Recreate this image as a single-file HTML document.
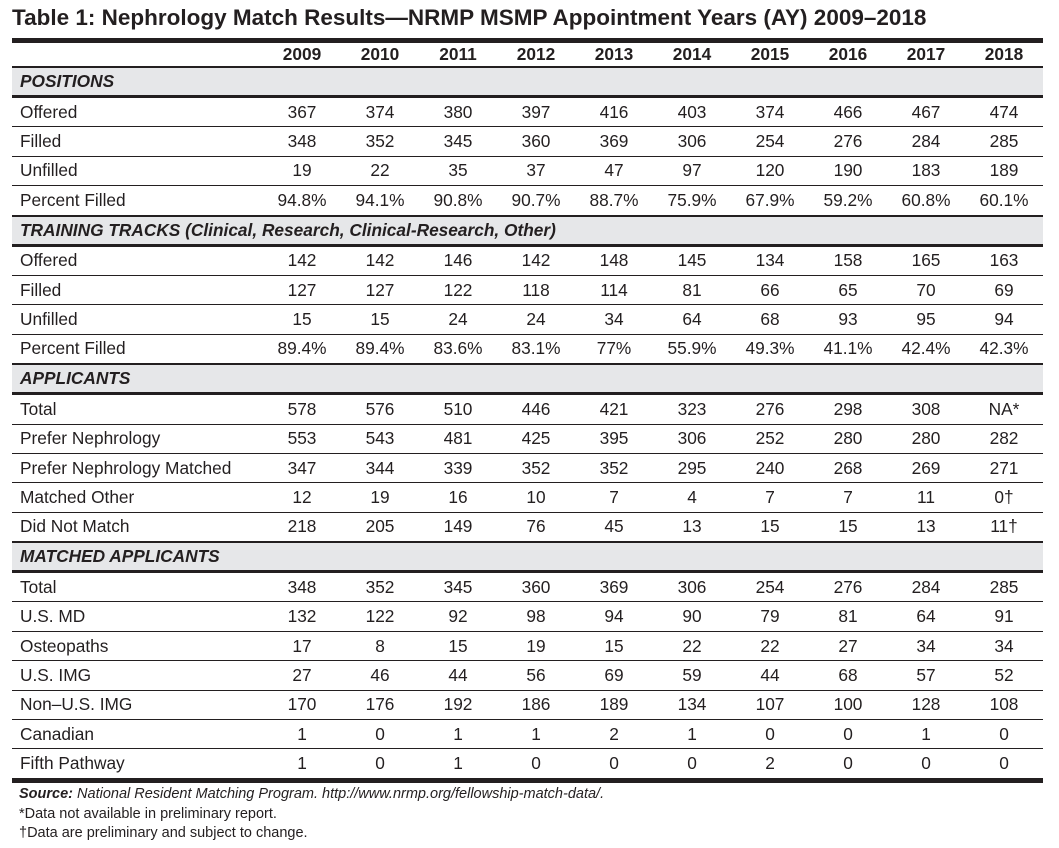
<!DOCTYPE html>
<html><head><meta charset="utf-8"><style>
body{margin:0;background:#fff;width:1059px;height:848px;overflow:hidden;font-family:"Liberation Sans",Arial,sans-serif;color:#231f20}
.title{position:absolute;left:12px;top:5px;font-size:22.5px;font-weight:bold;letter-spacing:0px}
table{position:absolute;left:12px;top:38px;width:1031px;border-collapse:collapse;table-layout:fixed;font-size:17.3px;border-top:5px solid #231f20;border-bottom:5px solid #231f20}
td{padding:0;text-align:center;border-bottom:1px solid #231f20;height:28.4px;white-space:nowrap}
td:first-child{text-align:left;padding-left:8px}
tr.h td{font-weight:bold;height:23px;border-bottom:2px solid #231f20}
tr.s td{background:#e6e7e9;font-weight:bold;font-style:italic;border-bottom:3px solid #231f20;border-top:2px solid #231f20;height:27px}
.foot{position:absolute;left:19px;top:785px;font-size:14.5px;line-height:19.5px}
</style></head><body>
<div class="title">Table 1: Nephrology Match Results—NRMP MSMP Appointment Years (AY) 2009–2018</div>
<table>
<colgroup><col style="width:251px"><col span="10" style="width:78px"></colgroup>
<tr class="h"><td></td><td>2009</td><td>2010</td><td>2011</td><td>2012</td><td>2013</td><td>2014</td><td>2015</td><td>2016</td><td>2017</td><td>2018</td></tr>
<tr class="s"><td colspan="11">POSITIONS</td></tr>
<tr><td>Offered</td><td>367</td><td>374</td><td>380</td><td>397</td><td>416</td><td>403</td><td>374</td><td>466</td><td>467</td><td>474</td></tr>
<tr><td>Filled</td><td>348</td><td>352</td><td>345</td><td>360</td><td>369</td><td>306</td><td>254</td><td>276</td><td>284</td><td>285</td></tr>
<tr><td>Unfilled</td><td>19</td><td>22</td><td>35</td><td>37</td><td>47</td><td>97</td><td>120</td><td>190</td><td>183</td><td>189</td></tr>
<tr><td>Percent Filled</td><td>94.8%</td><td>94.1%</td><td>90.8%</td><td>90.7%</td><td>88.7%</td><td>75.9%</td><td>67.9%</td><td>59.2%</td><td>60.8%</td><td>60.1%</td></tr>
<tr class="s"><td colspan="11">TRAINING TRACKS (Clinical, Research, Clinical-Research, Other)</td></tr>
<tr><td>Offered</td><td>142</td><td>142</td><td>146</td><td>142</td><td>148</td><td>145</td><td>134</td><td>158</td><td>165</td><td>163</td></tr>
<tr><td>Filled</td><td>127</td><td>127</td><td>122</td><td>118</td><td>114</td><td>81</td><td>66</td><td>65</td><td>70</td><td>69</td></tr>
<tr><td>Unfilled</td><td>15</td><td>15</td><td>24</td><td>24</td><td>34</td><td>64</td><td>68</td><td>93</td><td>95</td><td>94</td></tr>
<tr><td>Percent Filled</td><td>89.4%</td><td>89.4%</td><td>83.6%</td><td>83.1%</td><td>77%</td><td>55.9%</td><td>49.3%</td><td>41.1%</td><td>42.4%</td><td>42.3%</td></tr>
<tr class="s"><td colspan="11">APPLICANTS</td></tr>
<tr><td>Total</td><td>578</td><td>576</td><td>510</td><td>446</td><td>421</td><td>323</td><td>276</td><td>298</td><td>308</td><td>NA*</td></tr>
<tr><td>Prefer Nephrology</td><td>553</td><td>543</td><td>481</td><td>425</td><td>395</td><td>306</td><td>252</td><td>280</td><td>280</td><td>282</td></tr>
<tr><td>Prefer Nephrology Matched</td><td>347</td><td>344</td><td>339</td><td>352</td><td>352</td><td>295</td><td>240</td><td>268</td><td>269</td><td>271</td></tr>
<tr><td>Matched Other</td><td>12</td><td>19</td><td>16</td><td>10</td><td>7</td><td>4</td><td>7</td><td>7</td><td>11</td><td>0†</td></tr>
<tr><td>Did Not Match</td><td>218</td><td>205</td><td>149</td><td>76</td><td>45</td><td>13</td><td>15</td><td>15</td><td>13</td><td>11†</td></tr>
<tr class="s"><td colspan="11">MATCHED APPLICANTS</td></tr>
<tr><td>Total</td><td>348</td><td>352</td><td>345</td><td>360</td><td>369</td><td>306</td><td>254</td><td>276</td><td>284</td><td>285</td></tr>
<tr><td>U.S. MD</td><td>132</td><td>122</td><td>92</td><td>98</td><td>94</td><td>90</td><td>79</td><td>81</td><td>64</td><td>91</td></tr>
<tr><td>Osteopaths</td><td>17</td><td>8</td><td>15</td><td>19</td><td>15</td><td>22</td><td>22</td><td>27</td><td>34</td><td>34</td></tr>
<tr><td>U.S. IMG</td><td>27</td><td>46</td><td>44</td><td>56</td><td>69</td><td>59</td><td>44</td><td>68</td><td>57</td><td>52</td></tr>
<tr><td>Non–U.S. IMG</td><td>170</td><td>176</td><td>192</td><td>186</td><td>189</td><td>134</td><td>107</td><td>100</td><td>128</td><td>108</td></tr>
<tr><td>Canadian</td><td>1</td><td>0</td><td>1</td><td>1</td><td>2</td><td>1</td><td>0</td><td>0</td><td>1</td><td>0</td></tr>
<tr><td style="border-bottom:none">Fifth Pathway</td><td style="border-bottom:none">1</td><td style="border-bottom:none">0</td><td style="border-bottom:none">1</td><td style="border-bottom:none">0</td><td style="border-bottom:none">0</td><td style="border-bottom:none">0</td><td style="border-bottom:none">2</td><td style="border-bottom:none">0</td><td style="border-bottom:none">0</td><td style="border-bottom:none">0</td></tr>
</table>
<div class="foot"><b><i>Source:</i></b> <i>National Resident Matching Program. http://www.nrmp.org/fellowship-match-data/.</i><br>*Data not available in preliminary report.<br>†Data are preliminary and subject to change.</div>
</body></html>
